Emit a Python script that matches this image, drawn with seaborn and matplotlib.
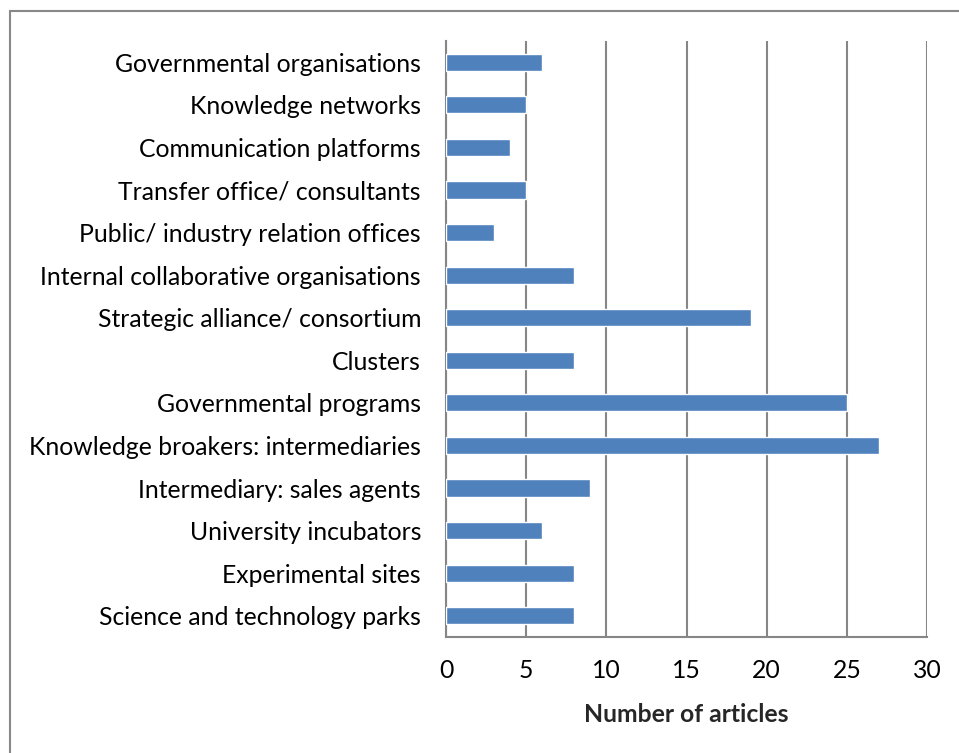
import matplotlib
matplotlib.use("Agg")
import matplotlib.pyplot as plt
import seaborn as sns
import pandas as pd
import numpy as np
from matplotlib.patches import Rectangle

categories = [
    "Governmental organisations",
    "Knowledge networks",
    "Communication platforms",
    "Transfer office/ consultants",
    "Public/ industry relation offices",
    "Internal collaborative organisations",
    "Strategic alliance/ consortium",
    "Clusters",
    "Governmental programs",
    "Knowledge broakers: intermediaries",
    "Intermediary: sales agents",
    "University incubators",
    "Experimental sites",
    "Science and technology parks",
]
values = [6, 5, 4, 5, 3, 8, 19, 8, 25, 27, 9, 6, 8, 8]
xticks = [0, 5, 10, 15, 20, 25, 30]

df = pd.DataFrame({"category": categories, "articles": values})

sns.set_theme(style="white")
plt.rcParams["font.family"] = ["Lato", "DejaVu Sans"]

W, H = 959, 753
fs = 17.8
fig = plt.figure(figsize=(W / 100, H / 100), dpi=100)
ax = fig.add_axes([446 / W, 1 - 637 / H, (927 - 446) / W, (637 - 41) / H])

grid_c = "#868686"
sns.barplot(data=df, y="category", x="articles", orient="h", color="#4F81BD",
            saturation=1, width=0.4, ax=ax, zorder=3)

ax.set_xlim(0, 30)
ax.set_ylim(len(categories) - 0.5, -0.5)
ax.set_xticks(xticks)
ax.set_xticklabels([str(t) for t in xticks])
for t in xticks:
    ax.axvline(t, color=grid_c, lw=1.5, zorder=1)

ax.set_yticks(np.arange(len(categories)))
ax.set_yticks(np.arange(-0.5, len(categories), 1.0), minor=True)
ax.tick_params(axis="y", which="major", length=0, pad=18, labelsize=fs, colors="black")
ax.tick_params(axis="y", which="minor", length=8, width=1.5, color=grid_c, direction="out")
ax.tick_params(axis="x", which="major", length=8, width=1.5, color=grid_c, direction="out",
               pad=8, labelsize=fs, labelcolor="black")

for s in ["top", "right"]:
    ax.spines[s].set_visible(False)
for s in ["left", "bottom"]:
    ax.spines[s].set_color(grid_c)
    ax.spines[s].set_linewidth(1.5)

ax.set_ylabel("")
ax.set_xlabel("Number of articles", fontweight="bold", fontsize=fs, labelpad=15)

fig.patches.append(Rectangle((10 / W, -0.1), 1.2, 1 - 11 / H + 0.1,
                             transform=fig.transFigure, fill=False,
                             edgecolor="#888888", lw=1.5))

fig.savefig("out.png", dpi=100)
